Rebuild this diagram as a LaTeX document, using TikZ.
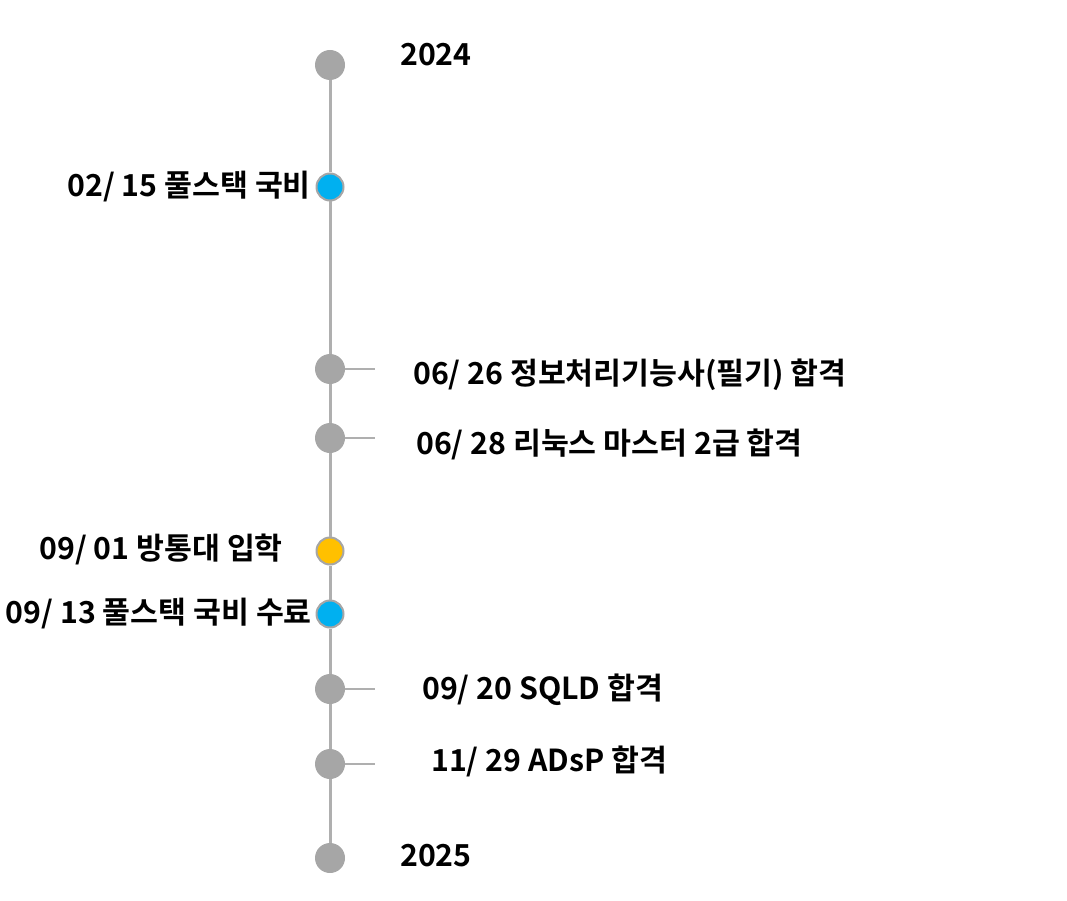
\documentclass[tikz,border=0pt]{standalone}
\usepackage{fontspec}
\setmainfont{Noto Sans CJK KR}[BoldFont={Noto Sans CJK KR Bold}]
\definecolor{dotgray}{HTML}{A6A6A6}
\definecolor{linegray}{HTML}{AFAFAF}
\definecolor{blueev}{HTML}{00B0F0}
\definecolor{yellowev}{HTML}{FFC000}
\begin{document}
\begin{tikzpicture}[x=1pt,y=-1pt,
  gdot/.style={circle,fill=dotgray,inner sep=0pt,minimum size=30pt},
  cdot/.style={circle,draw=dotgray,line width=2pt,inner sep=0pt,minimum size=27pt},
  axis/.style={draw=linegray,line width=3pt},
  tick/.style={draw=linegray,line width=2.5pt},
  lbl/.style={font=\fontsize{30.3}{36}\selectfont\bfseries,inner sep=0pt,text=black}]
\useasboundingbox (0,0) rectangle (1067,901);
% dots
\node[gdot] (d24) at (330,65) {};
\node[cdot,fill=blueev] (a) at (330,187) {};
\node[gdot] (b) at (330,369) {};
\node[gdot] (c) at (330,438) {};
\node[cdot,fill=yellowev] (d) at (330,551) {};
\node[cdot,fill=blueev] (e) at (330,614) {};
\node[gdot] (f) at (330,689) {};
\node[gdot] (g) at (330,764) {};
\node[gdot] (d25) at (330,858) {};
% axis
\path[axis] (d24.south) -- (a.north);
\path[axis] (a.south) -- (b.north);
\path[axis] (b.south) -- (c.north);
\path[axis] (c.south) -- (d.north);
\path[axis] (d.south) -- (e.north);
\path[axis] (e.south) -- (f.north);
\path[axis] (f.south) -- (g.north);
\path[axis] (g.south) -- (d25.north);
% ticks
\coordinate (bt) at (375,369);
\coordinate (ct) at (375,438);
\coordinate (ft) at (375,689);
\coordinate (gt) at (375,764);
\path[tick] (b.east) -- (bt);
\path[tick] (c.east) -- (ct);
\path[tick] (f.east) -- (ft);
\path[tick] (g.east) -- (gt);
% labels
\node[lbl,anchor=west] (l24) at (400,55) {2024};
\node[lbl,anchor=east] (la) at (311,187) {02/ 15 풀스택 국비};
\node[lbl,anchor=west] (lb) at (413,375) {06/ 26 정보처리기능사(필기) 합격};
\node[lbl,anchor=west] (lc) at (416,444) {06/ 28 리눅스 마스터 2급 합격};
\node[lbl,anchor=east] (ld) at (283,549) {09/ 01 방통대 입학};
\node[lbl,anchor=east] (le) at (312,614) {09/ 13 풀스택 국비 수료};
\node[lbl,anchor=west] (lf) at (422,690) {09/ 20 SQLD 합격};
\node[lbl,anchor=west] (lg) at (431,761) {11/ 29 ADsP 합격};
\node[lbl,anchor=west] (l25) at (400,856) {2025};
\end{tikzpicture}
\end{document}
